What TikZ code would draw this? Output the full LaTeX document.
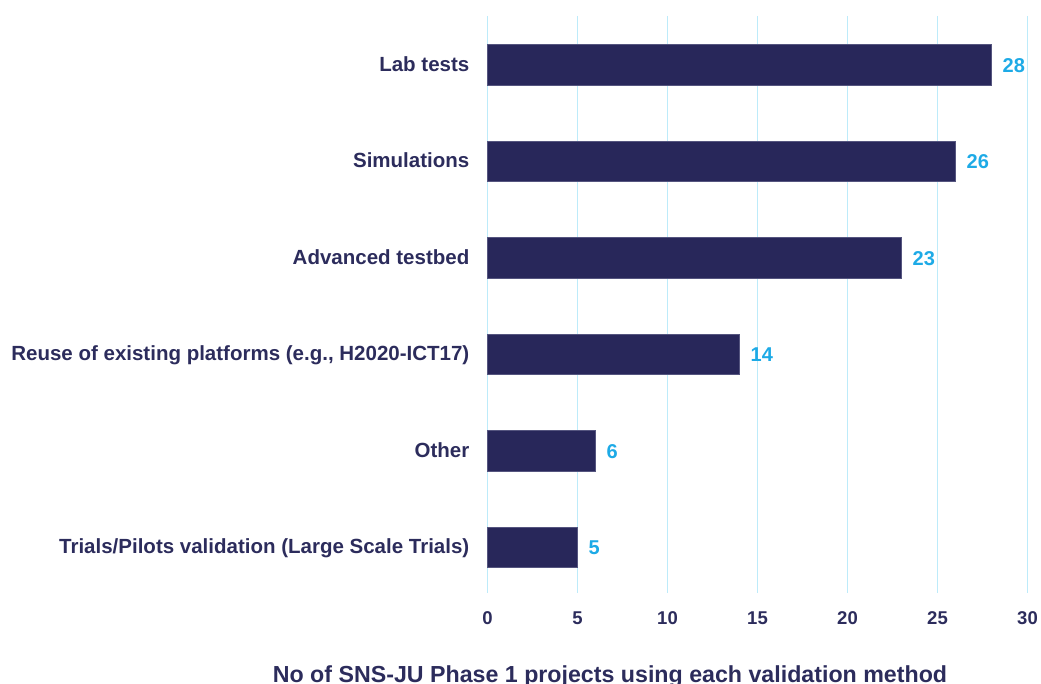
\documentclass[tikz,border=0pt]{standalone}
\usepackage{fontspec}
\setmainfont{Liberation Sans}
\definecolor{barfill}{HTML}{28275A}
\definecolor{baredge}{HTML}{55557F}
\definecolor{navytext}{HTML}{2C2C5C}
\definecolor{valcyan}{HTML}{1DAAE6}
\definecolor{gridcyan}{HTML}{BDEBFA}
\tikzset{
  catlabel/.style={anchor=base east, inner sep=0pt, text=navytext, font=\fontsize{20.5}{24}\selectfont\bfseries},
  vallabel/.style={anchor=base west, inner sep=0pt, text=valcyan, font=\fontsize{20}{24}\selectfont\bfseries},
  ticklabel/.style={anchor=base, inner sep=0pt, text=navytext, font=\fontsize{18.5}{24}\selectfont\bfseries},
  titlelabel/.style={anchor=base, inner sep=0pt, text=navytext, font=\fontsize{23.2}{27}\selectfont\bfseries},
  gridline/.style={draw=gridcyan, line width=1.8pt},
  bar/.style={fill=barfill, draw=baredge, line width=0.7pt}
}
\begin{document}
\begin{tikzpicture}[x=1pt,y=-1pt]
\useasboundingbox (0,0) rectangle (1041,684);
% grid lines
\foreach \k in {0,...,6} {
  \coordinate (gt\k) at ({487.5+90*\k},16);
  \coordinate (gb\k) at ({487.5+90*\k},593);
  \draw[gridline] (gt\k) -- (gb\k);
  \pgfmathtruncatemacro{\tv}{5*\k}
  \node[ticklabel] (tick\k) at ({487.5+90*\k},624) {\tv};
}
% bars
\foreach \i/\lab/\v in {0/Lab tests/28, 1/Simulations/26, 2/Advanced testbed/23,
  3/{Reuse of existing platforms (e.g., H2020-ICT17)}/14, 4/Other/6,
  5/{Trials/Pilots validation (Large Scale Trials)}/5} {
  \pgfmathsetmacro{\yc}{64.9+96.45*\i}
  \draw[bar] (487.5,{\yc-20.2}) rectangle ({487.5+18*\v},{\yc+20.2});
  \node[catlabel] (cat\i) at (469.5,{\yc+6.5}) {\lab};
  \node[vallabel] (val\i) at ({487.5+18*\v+11},{\yc+7.5}) {\v};
}
\node[titlelabel] (title) at (610,682) {No of SNS-JU Phase 1 projects using each validation method};
\end{tikzpicture}
\end{document}
